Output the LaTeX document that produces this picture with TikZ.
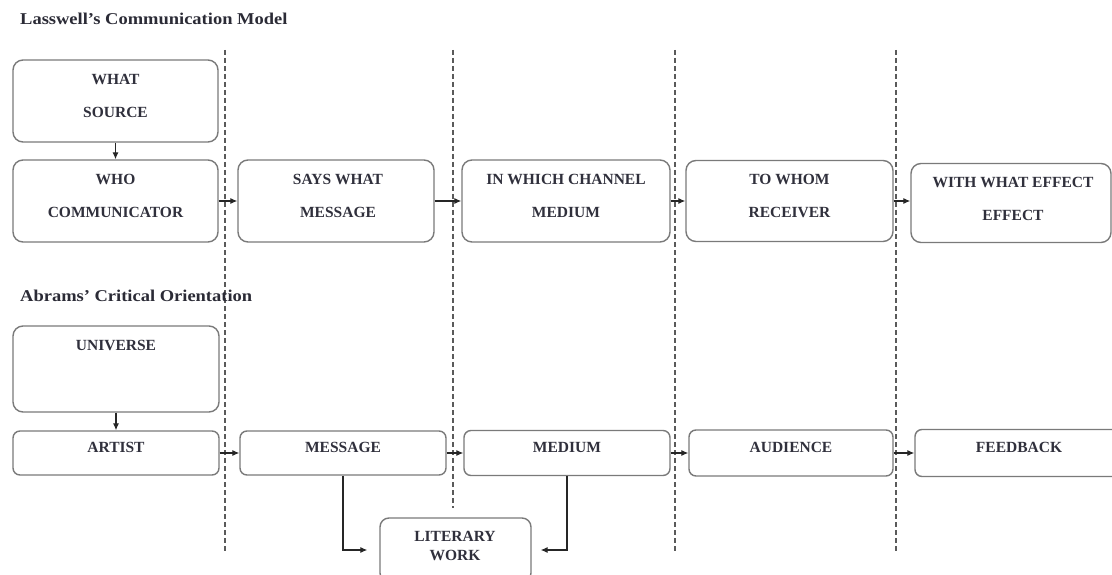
\documentclass[tikz,border=0pt]{standalone}
\usepackage{fontspec}
\setmainfont{Liberation Serif}
\newfontfamily\headfont[FakeStretch=1.12]{Liberation Serif}
\newfontfamily\capsfont{Liberation Serif}
\usetikzlibrary{arrows.meta}

\definecolor{boxline}{RGB}{122,122,122}
\definecolor{ink}{RGB}{48,48,60}
\definecolor{sepline}{RGB}{90,90,90}

\begin{document}
\begin{tikzpicture}[x=1pt,y=-1pt,
  card/.style={draw=boxline, line width=1.4pt, rounded corners=10pt,
    inner sep=0pt, fill=white},
  slim/.style={card, rounded corners=7pt},
  caps/.style={inner sep=0pt, align=center, text=ink,
    font=\capsfont\bfseries\fontsize{15.5}{33}\selectfont},
  tight/.style={caps, font=\capsfont\bfseries\fontsize{15.5}{19}\selectfont},
  heading/.style={inner sep=0pt, anchor=base west, text=ink!90!black,
    font=\headfont\bfseries\fontsize{16.5}{20}\selectfont},
  flow/.style={draw=black!85, line width=1.1pt,
    -{Latex[length=7pt,width=6pt]}},
  divider/.style={draw=sepline, line width=1.2pt, dash pattern=on 5pt off 3pt},
]
\clip (0,0) rectangle (1112,575);
\fill[white] (0,0) rectangle (1112,575);

% column dividers
\coordinate (d1a) at (225,50);  \coordinate (d1b) at (225,553);
\coordinate (d2a) at (453,50);  \coordinate (d2b) at (453,508);
\coordinate (d3a) at (675,50);  \coordinate (d3b) at (675,552);
\coordinate (d4a) at (896,50);  \coordinate (d4b) at (896,553);
\draw[divider] (d1a) -- (d1b);
\draw[divider] (d2a) -- (d2b);
\draw[divider] (d3a) -- (d3b);
\draw[divider] (d4a) -- (d4b);

% headings
\node[heading] (h1) at (20,25) {Lasswell’s Communication Model};
\node[heading] (h2) at (20,301) {Abrams’ Critical Orientation};

% Lasswell boxes
\node[card, minimum width=205pt, minimum height=82pt] (src)  at (115.5,101) {};
\node[card, minimum width=205pt, minimum height=82pt] (who)  at (115.5,201) {};
\node[card, minimum width=196pt, minimum height=82pt] (says) at (336,201) {};
\node[card, minimum width=208pt, minimum height=82pt] (chan) at (566,201) {};
\node[card, minimum width=207pt, minimum height=81pt] (whom) at (789.5,201) {};
\node[card, minimum width=200pt, minimum height=79pt] (eff)  at (1011,203) {};

\node[caps] (src-t)  at (115.5,96)  {WHAT\\SOURCE};
\node[caps] (who-t)  at (115.5,196) {WHO\\COMMUNICATOR};
\node[caps] (says-t) at (338,196)   {SAYS WHAT\\MESSAGE};
\node[caps] (chan-t) at (566,196)   {IN WHICH CHANNEL\\MEDIUM};
\node[caps] (whom-t) at (789.5,196) {TO WHOM\\RECEIVER};
\node[caps] (eff-t)  at (1013,199)  {WITH WHAT EFFECT\\EFFECT};

\draw[flow] (src.south) -- (who.north);
\draw[flow] (who.east) -- (says.west);
\draw[flow] (says.east) -- (chan.west);
\draw[flow] (chan.east) -- (whom.west);
\draw[flow] (whom.east) -- (eff.west |- whom.east);

% Abrams boxes
\node[card, minimum width=206pt, minimum height=86pt] (univ)   at (116,369) {};
\node[slim, minimum width=206pt, minimum height=44pt] (artist) at (116,453) {};
\node[slim, minimum width=206pt, minimum height=44pt] (msg)    at (343,453) {};
\node[slim, minimum width=206pt, minimum height=45pt] (med)    at (567,453) {};
\node[slim, minimum width=204pt, minimum height=46pt] (aud)    at (791,453) {};
\node[slim, minimum width=207pt, minimum height=47pt] (feed)   at (1018.5,453) {};
\node[card, rounded corners=9pt, minimum width=151pt, minimum height=64pt] (lit) at (455.5,550) {};

\node[caps] (univ-t)   at (116,345)    {UNIVERSE};
\node[caps] (artist-t) at (116,447)    {ARTIST};
\node[caps] (msg-t)    at (343,447)    {MESSAGE};
\node[caps] (med-t)    at (567,447)    {MEDIUM};
\node[caps] (aud-t)    at (791,447)    {AUDIENCE};
\node[caps] (feed-t)   at (1019,447)   {FEEDBACK};
\node[tight] (lit-t)   at (455,546)    {LITERARY\\WORK};

\draw[flow] (univ.south) -- (artist.north);
\draw[flow] (artist.east) -- (msg.west);
\draw[flow] (msg.east) -- (med.west);
\draw[flow] (med.east) -- (aud.west);
\draw[flow] (aud.east) -- (feed.west);
\draw[flow, shorten >=12pt] (msg.south) |- (lit.west);
\draw[flow, shorten >=9pt] (med.south) |- (lit.east);
\end{tikzpicture}
\end{document}
